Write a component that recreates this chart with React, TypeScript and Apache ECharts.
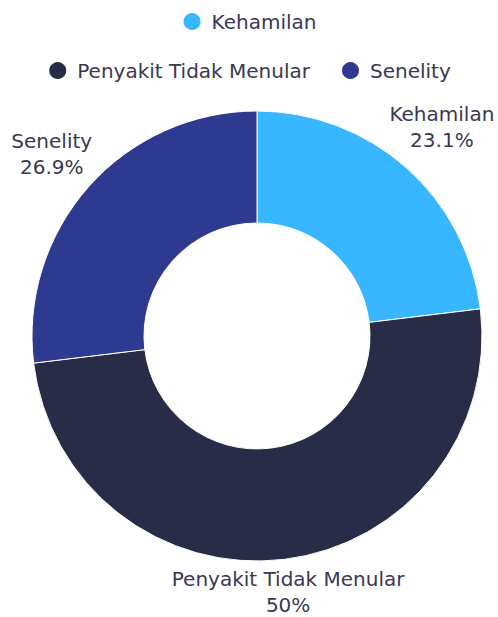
import React, { useEffect, useRef } from "react";
import * as echarts from "echarts";

const categories = ["Kehamilan", "Penyakit Tidak Menular", "Senelity"];
const values = [6, 13, 7];
const colors = ["#38b6ff", "#292c47", "#2e3990"];
const legendRow1 = ["Kehamilan"];
const legendRow2 = ["Penyakit Tidak Menular", "Senelity"];

const W = 498;
const H = 617;
const CX = 257;
const CY = 336;
const R_IN = 113;
const R_OUT = 225;
const FONT = "DejaVu Sans";
const FONT_SIZE = 20;
const TEXT_COLOR = "#3a3852";

export default function App() {
  const ref = useRef<HTMLDivElement>(null);
  useEffect(() => {
    document.body.style.margin = "0";
    if (!ref.current) return;
    const chart = echarts.init(ref.current, undefined, { renderer: "svg" });
    const total = values.reduce((a, b) => a + b, 0);
    const midAngle = (i: number) => {
      let before = 0;
      for (let k = 0; k < i; k++) before += values[k];
      return ((before + values[i] / 2) / total) * Math.PI * 2;
    };
    const legendBase = {
      left: "center",
      orient: "horizontal" as const,
      icon: "circle",
      padding: 0,
      itemWidth: 19,
      itemHeight: 19,
      itemGap: 30,
      textStyle: {
        color: TEXT_COLOR,
        fontFamily: FONT,
        fontSize: FONT_SIZE,
        padding: [0, 0, 0, 5],
      },
    };
    chart.setOption({
      animation: false,
      color: colors,
      legend: [
        { ...legendBase, top: 11, data: legendRow1 },
        { ...legendBase, top: 60, data: legendRow2 },
      ],
      series: [
        {
          type: "pie",
          center: [CX, CY],
          radius: [R_IN, R_OUT],
          startAngle: 90,
          clockwise: true,
          avoidLabelOverlap: false,
          itemStyle: { borderColor: "#ffffff", borderWidth: 1 },
          label: {
            show: true,
            position: "outside",
            formatter: (p: any) => `${p.name}\n${Math.round(p.percent * 10) / 10}%`,
            color: TEXT_COLOR,
            fontFamily: FONT,
            fontSize: FONT_SIZE,
            lineHeight: 26,
            align: "center",
          },
          labelLine: { show: false },
          labelLayout: (params: any) => {
            const a = midAngle(params.dataIndex);
            const s = Math.sin(a);
            const c = Math.cos(a);
            const w = params.labelRect.width;
            const d = 244 + Math.abs(s) * (w / 2);
            return {
              x: CX + d * s,
              y: CY - d * c,
              align: "center",
              verticalAlign: "middle",
            };
          },
          emphasis: { disabled: true },
          data: categories.map((name, i) => ({ name, value: values[i] })),
        },
      ],
    });
    return () => chart.dispose();
  }, []);
  return <div ref={ref} style={{ width: W, height: H }} />;
}
